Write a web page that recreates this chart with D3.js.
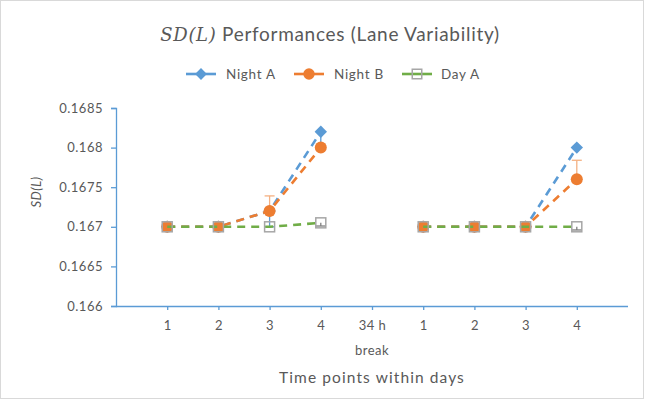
<!DOCTYPE html>
<html>
<head>
<meta charset="utf-8">
<script src="https://cdn.jsdelivr.net/npm/d3@7"></script>
<style>
  html, body { margin: 0; padding: 0; background: #fff; }
  svg text { font-family: Lato, "Open Sans", sans-serif; fill: #595959; }
</style>
</head>
<body>
<svg id="chart" width="645" height="404"></svg>
<script>
// Time points: two days of four readings, split by the 34 h break
const xPositions = [1, 2, 3, 4, 5, 6, 7, 8, 9];
const xTickLabels = ["1", "2", "3", "4", "34 h", "1", "2", "3", "4"];
const yTicks = [0.166, 0.1665, 0.167, 0.1675, 0.168, 0.1685];

// Series values (null = break, no reading)
const nightA = [0.167, 0.167, 0.1672, 0.1682, null, 0.167, 0.167, 0.167, 0.168];
const nightB = [0.167, 0.167, 0.1672, 0.168, null, 0.167, 0.167, 0.167, 0.1676];
const dayA   = [0.167, 0.167, 0.167, 0.16705, null, 0.167, 0.167, 0.167, 0.167];

// Error bar extents (below / above the point)
const nightAErrLow  = [0.00004, 0.00004, 0.0002, 0.0002, null, 0.00003, 0.00003, 0.00004, 0];
const nightBErrHigh = [0, 0, 0.00019, 0, null, 0, 0, 0, 0.00024];
const dayAErrLow    = [0, 0, 0, 0.00004, null, 0, 0, 0, 0.00004];

const svg = d3.select("#chart");
const W = 645, H = 404;

// outer chart frame
svg.append("rect").attr("x", 0.5).attr("y", 0.5).attr("width", W - 2).attr("height", H - 6)
  .attr("fill", "#fff").attr("stroke", "#d9d9d9");

const x = d3.scaleLinear().domain([0, 10]).range([116, 628]);
const y = d3.scaleLinear().domain([0.166, 0.1685]).range([306, 108]);

const axisColor = "#5b9bd5";

// y axis
const yAxis = svg.append("g").attr("transform", `translate(${x(0)},0)`)
  .call(d3.axisLeft(y).tickValues(yTicks).tickSize(5).tickPadding(8)
    .tickFormat(d => String(+d.toFixed(4))));
yAxis.select(".domain").attr("stroke", axisColor).attr("stroke-width", 1.3);
yAxis.selectAll(".tick line").attr("stroke", axisColor).attr("stroke-width", 1.3);
yAxis.selectAll(".tick text").style("font-size", "13px").style("letter-spacing", "0.5px")
  .attr("fill", "#595959");

// x axis
const xAxis = svg.append("g").attr("transform", `translate(0,${y(0.166)})`)
  .call(d3.axisBottom(x).tickValues(xPositions).tickSize(4).tickPadding(11)
    .tickFormat((d, i) => xTickLabels[i]));
xAxis.select(".domain").attr("stroke", axisColor).attr("stroke-width", 1.3)
  .attr("d", `M${x(0)},0.5H${x(10)}`);
xAxis.selectAll(".tick line").attr("stroke", axisColor).attr("stroke-width", 1.3);
xAxis.selectAll(".tick text").style("font-size", "13px").style("letter-spacing", "0.5px")
  .attr("fill", "#595959");

// second line under the break tick
svg.append("text").attr("x", x(5)).attr("y", 355).attr("text-anchor", "middle")
  .style("font-size", "13px").style("letter-spacing", "0.5px").text("break");

// axis titles
svg.append("text").attr("x", x(5)).attr("y", 383).attr("text-anchor", "middle")
  .style("font-size", "15.5px").style("letter-spacing", "1.1px").text("Time points within days");
svg.append("text").attr("transform", "translate(41,192) rotate(-90)")
  .attr("text-anchor", "middle").style("font-size", "13px").style("font-style", "italic")
  .style("letter-spacing", "0.5px").text("SD(L)");

// title
const title = svg.append("text").attr("x", 330).attr("y", 41).attr("text-anchor", "middle")
  .style("font-size", "19px").style("letter-spacing", "0.7px");
title.append("tspan").style("font-family", "'DejaVu Serif', 'Liberation Serif', serif")
  .style("font-style", "italic").style("font-size", "18px").text("SD(L)");
title.append("tspan").text(" Performances (Lane Variability)");

const line = d3.line().defined(d => d.v !== null).x(d => x(d.x)).y(d => y(d.v));
const pts = arr => arr.map((v, i) => ({ x: xPositions[i], v, i }));

const series = [
  { name: "Night A", data: nightA, color: "#5b9bd5", errColor: "#5b9bd5", marker: "diamond",
    err: nightAErrLow, dir: 1 },
  { name: "Night B", data: nightB, color: "#ed7d31", errColor: "#f4b183", marker: "circle",
    err: nightBErrHigh, dir: -1 },
  { name: "Day A", data: dayA, color: "#70ad47", errColor: "#7f7f7f", marker: "square",
    err: dayAErrLow, dir: 1 }
];

function drawMarker(g, type, color, cx, cy, scale = 1) {
  if (type === "diamond") {
    const s = 6.2 * scale;
    g.append("path").attr("d", `M${cx},${cy - s}L${cx + s},${cy}L${cx},${cy + s}L${cx - s},${cy}Z`)
      .attr("fill", color);
  } else if (type === "circle") {
    g.append("circle").attr("cx", cx).attr("cy", cy).attr("r", 6 * scale).attr("fill", color);
  } else {
    const s = 5 * scale;
    g.append("rect").attr("x", cx - s).attr("y", cy - s).attr("width", 2 * s).attr("height", 2 * s)
      .attr("fill", "none").attr("stroke", "#a6a6a6").attr("stroke-width", 1.5);
  }
}

const plot = svg.append("g");
series.forEach(s => {
  const g = plot.append("g");
  const p = pts(s.data);
  g.append("path").datum(p).attr("d", line).attr("fill", "none")
    .attr("stroke", s.color).attr("stroke-width", 2.6).attr("stroke-dasharray", "8,6");
  // error bars
  p.forEach((d, i) => {
    const e = s.err[i];
    if (d.v === null || !e) return;
    const y0 = y(d.v), y1 = y(d.v + (s.dir < 0 ? e : -e));
    g.append("line").attr("x1", x(d.x)).attr("x2", x(d.x)).attr("y1", y0).attr("y2", y1)
      .attr("stroke", s.errColor).attr("stroke-width", 1.3);
    g.append("line").attr("x1", x(d.x) - 5).attr("x2", x(d.x) + 5).attr("y1", y1).attr("y2", y1)
      .attr("stroke", s.errColor).attr("stroke-width", 1.3);
  });
  p.filter(d => d.v !== null).forEach(d => drawMarker(g, s.marker, s.color, x(d.x), y(d.v)));
});

// legend
const legendItems = [
  { s: series[0], x0: 186, tx: 226 },
  { s: series[1], x0: 294, tx: 334 },
  { s: series[2], x0: 402, tx: 441 }
];
const lg = svg.append("g");
legendItems.forEach(it => {
  lg.append("line").attr("x1", it.x0).attr("x2", it.x0 + 30).attr("y1", 74).attr("y2", 74)
    .attr("stroke", it.s.color).attr("stroke-width", 2.6);
  drawMarker(lg, it.s.marker, it.s.color, it.x0 + 15, 74, 0.95);
  lg.append("text").attr("x", it.tx).attr("y", 79).style("font-size", "13.5px")
    .style("letter-spacing", "0.7px").text(it.s.name);
});
</script>
</body>
</html>
